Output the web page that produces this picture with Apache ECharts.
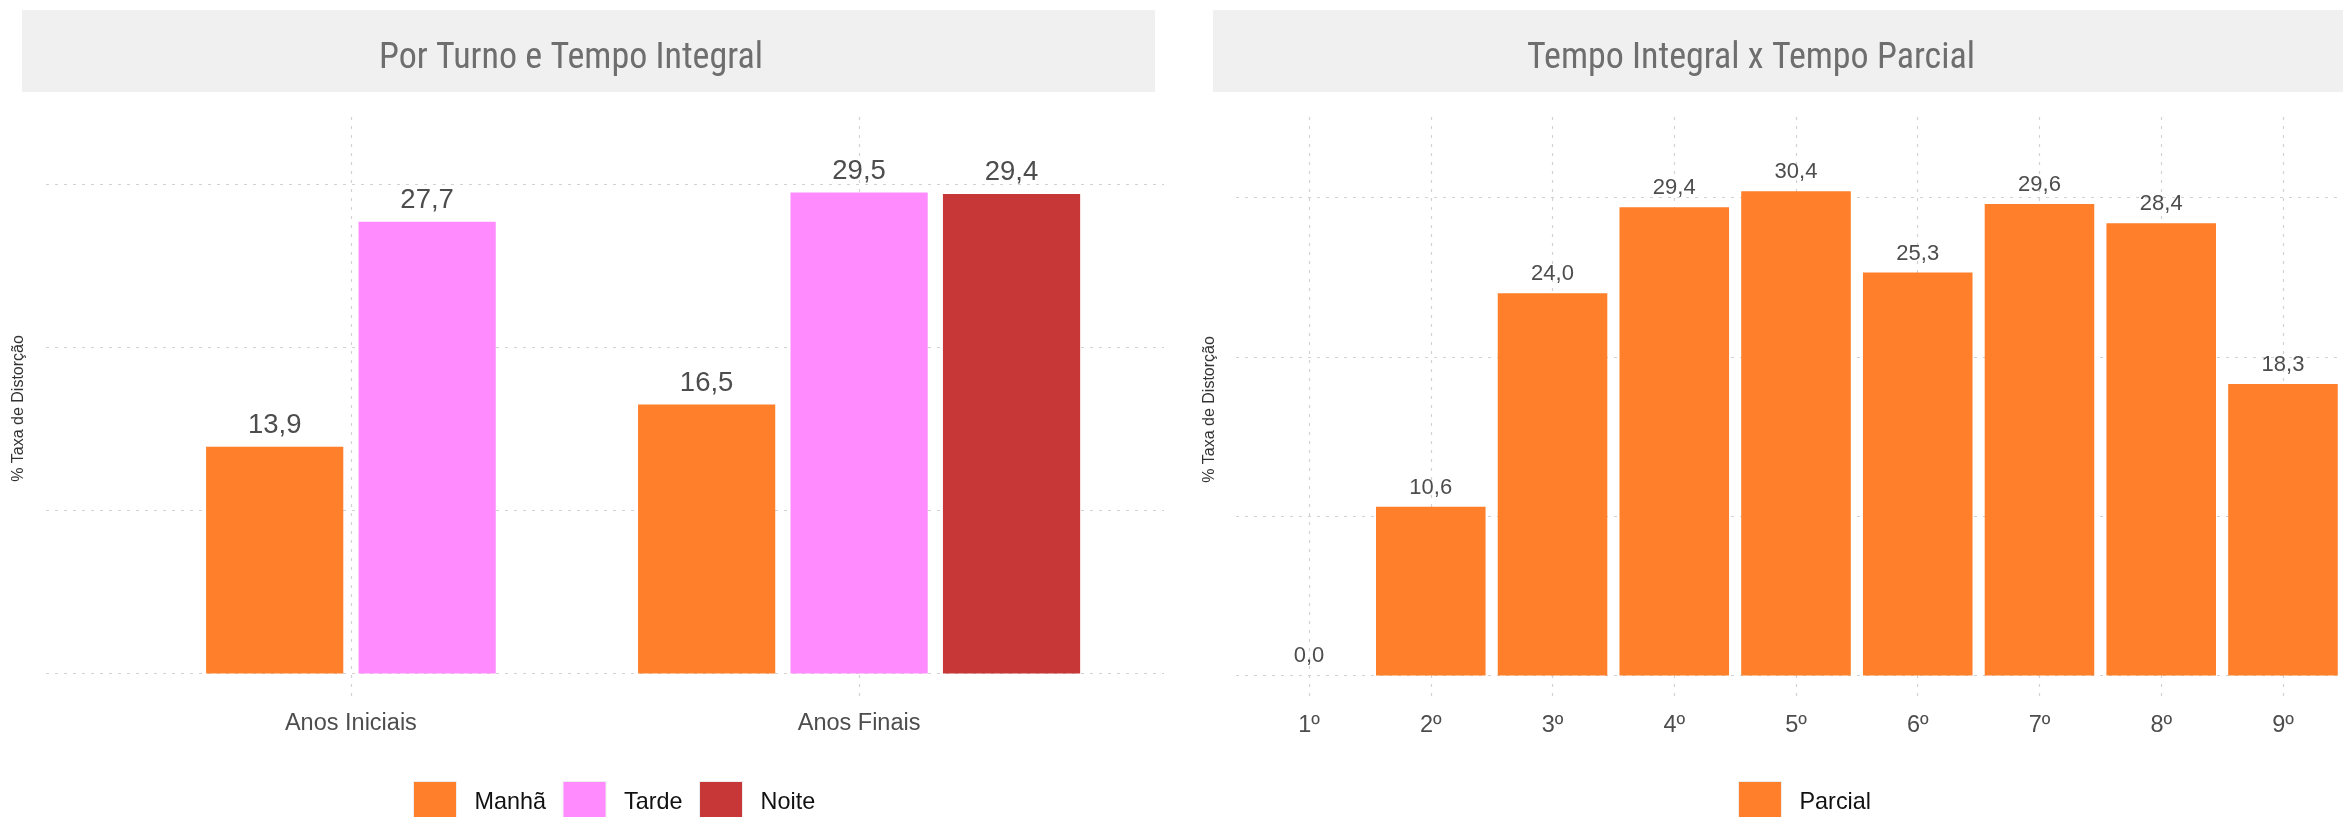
<!DOCTYPE html>
<html>
<head>
<meta charset="utf-8">
<script src="https://cdn.jsdelivr.net/npm/echarts@6/dist/echarts.min.js"></script>
<style>
html,body{margin:0;padding:0;background:#fff;}
#chart{width:2343px;height:817px;}
</style>
</head>
<body>
<div id="chart"></div>
<script>
// ---------- data ----------
const leftTitle = 'Por Turno e Tempo Integral';
const rightTitle = 'Tempo Integral x Tempo Parcial';
const yAxisTitle = '% Taxa de Distorção';
const leftCategories = ['Anos Iniciais', 'Anos Finais'];
const turnoNames = ['Manhã', 'Tarde', 'Noite'];
const manha = [13.9, 16.5];
const tarde = [27.7, 29.5];
const noite = [null, 29.4];
const rightCategories = ['1º', '2º', '3º', '4º', '5º', '6º', '7º', '8º', '9º'];
const parcialName = 'Parcial';
const parcial = [0.0, 10.6, 24.0, 29.4, 30.4, 25.3, 29.6, 28.4, 18.3];
const gridTicks = [0, 10, 20, 30];

// ---------- styling ----------
const turnoColors = ['#FF7F2A', '#FF8BFF', '#C83737'];
const parcialColor = '#FF7F2A';
const W = 2343;
const leftGrid = {left: 46, top: 117, width: 1118, height: 583};
const rightGrid = {left: 1236, top: 117, width: 1120, height: 585};
const gridLineStyle = {color: '#d2d2d2', width: 1.2, type: [3, 6]};
const labelFont = '"Liberation Sans", Arial, Helvetica, sans-serif';

function hasFont(name) {
  const c = document.createElement('canvas').getContext('2d');
  const s = 'Por Turno e Tempo Integral';
  c.font = '40px monospace'; const a = c.measureText(s).width;
  c.font = '40px "' + name + '", monospace'; const b = c.measureText(s).width;
  return Math.abs(a - b) > 0.5;
}
let titleFont;
if (hasFont('Liberation Sans Narrow')) titleFont = '36.5px "Liberation Sans Narrow", sans-serif';
else if (hasFont('Roboto Condensed')) titleFont = '36px "Roboto Condensed", sans-serif';
else titleFont = '30px "Liberation Sans", Arial, sans-serif';

const fmt = v => Number(v).toFixed(1).replace('.', ',');

// dodge (preserve single) positions for left chart
const leftSeriesValues = [manha, tarde, noite];
const dodgeWidth = 0.9;
const slot = dodgeWidth / leftSeriesValues.length;
const leftBarUnits = slot * 0.9;
const leftData = leftSeriesValues.map(() => []);
leftCategories.forEach((c, i) => {
  const present = leftSeriesValues.map((arr, s) => arr[i] == null ? -1 : s).filter(s => s >= 0);
  const n = present.length;
  present.forEach((s, k) => {
    leftData[s].push([i + 1 + (k - (n - 1) / 2) * slot, leftSeriesValues[s][i]]);
  });
});
const leftYmax = Math.max(...manha, ...tarde, ...noite.filter(v => v != null)) + 3;
const rightYmax = Math.max(...parcial) + 3;
const leftXRange = [0.4, leftCategories.length + 0.6];
const rightXRange = [0.4, rightCategories.length + 0.6];
const leftBarPx = leftBarUnits * leftGrid.width / (leftXRange[1] - leftXRange[0]);
const rightBarPx = 0.9 * rightGrid.width / (rightXRange[1] - rightXRange[0]);

const catIdx = (cats) => cats.map((c, i) => i + 1);

function xAxisDef(gridIndex, cats, range) {
  return {
    type: 'value', gridIndex, min: range[0], max: range[1],
    axisLine: {show: false},
    axisTick: {show: false, customValues: catIdx(cats)},
    axisLabel: {
      customValues: catIdx(cats),
      formatter: v => cats[Math.round(v) - 1] || '',
      color: '#4d4d4d', fontSize: 23.5, fontFamily: labelFont, margin: 12
    },
    splitLine: {show: true, lineStyle: gridLineStyle}
  };
}
function yAxisDef(gridIndex, ymax, gap) {
  return {
    type: 'value', gridIndex, min: -0.05 * ymax, max: 1.05 * ymax,
    name: yAxisTitle, nameLocation: 'middle', nameRotate: 90, nameGap: gap,
    nameTextStyle: {color: '#333', fontSize: 16, fontFamily: labelFont},
    axisLine: {show: false},
    axisTick: {show: false, customValues: gridTicks},
    axisLabel: {show: false, customValues: gridTicks},
    splitLine: {show: true, lineStyle: gridLineStyle}
  };
}

const series = [];
turnoNames.forEach((name, s) => {
  series.push({
    type: 'bar', name, xAxisIndex: 0, yAxisIndex: 0,
    data: leftData[s], barWidth: leftBarPx, barGap: '-100%',
    itemStyle: {color: turnoColors[s]},
    label: {show: true, position: 'top', distance: 7.5, formatter: p => fmt(p.value[1]),
      color: '#4d4d4d', fontSize: 27.5, fontFamily: labelFont},
    emphasis: {disabled: true}
  });
});
series.push({
  type: 'bar', name: parcialName, xAxisIndex: 1, yAxisIndex: 1,
  data: parcial.map((v, i) => [i + 1, v]), barWidth: rightBarPx, barGap: '-100%',
  itemStyle: {color: parcialColor},
  label: {show: true, position: 'top', distance: 8, formatter: p => fmt(p.value[1]),
    color: '#4d4d4d', fontSize: 22, fontFamily: labelFont},
  emphasis: {disabled: true}
});

const legendCommon = {
  orient: 'horizontal', padding: 0, itemWidth: 43, itemHeight: 43, icon: 'rect',
  itemGap: 16.5, selectedMode: false,
  textStyle: {color: '#111', fontSize: 23.4, fontFamily: labelFont, padding: [0, 0, 0, 13]},
  itemStyle: {borderColor: '#eeeeee', borderWidth: 1}
};

const option = {
  animation: false,
  backgroundColor: '#ffffff',
  graphic: [
    {type: 'rect', z: -10, shape: {x: 22, y: 10, width: 1133, height: 82}, style: {fill: '#f0f0f0'}},
    {type: 'rect', z: -10, shape: {x: 1213, y: 10, width: W - 1213, height: 82}, style: {fill: '#f0f0f0'}},
    {type: 'text', x: 571, y: 59, style: {text: leftTitle, font: titleFont, fill: '#6e6e6e', align: 'center', verticalAlign: 'middle'}},
    {type: 'text', x: 1751, y: 59, style: {text: rightTitle, font: titleFont, fill: '#6e6e6e', align: 'center', verticalAlign: 'middle'}}
  ],
  legend: [
    Object.assign({}, legendCommon, {data: turnoNames, left: 413, top: 781}),
    Object.assign({}, legendCommon, {data: [parcialName], left: 1738, top: 781})
  ],
  grid: [
    Object.assign({containLabel: false, outerBoundsMode: 'none'}, leftGrid),
    Object.assign({containLabel: false, outerBoundsMode: 'none'}, rightGrid)
  ],
  xAxis: [xAxisDef(0, leftCategories, leftXRange), xAxisDef(1, rightCategories, rightXRange)],
  yAxis: [yAxisDef(0, leftYmax, 19), yAxisDef(1, rightYmax, 18)],
  series
};

const chart = echarts.init(document.getElementById('chart'), null, {renderer: 'canvas'});
chart.setOption(option);
</script>
</body>
</html>
